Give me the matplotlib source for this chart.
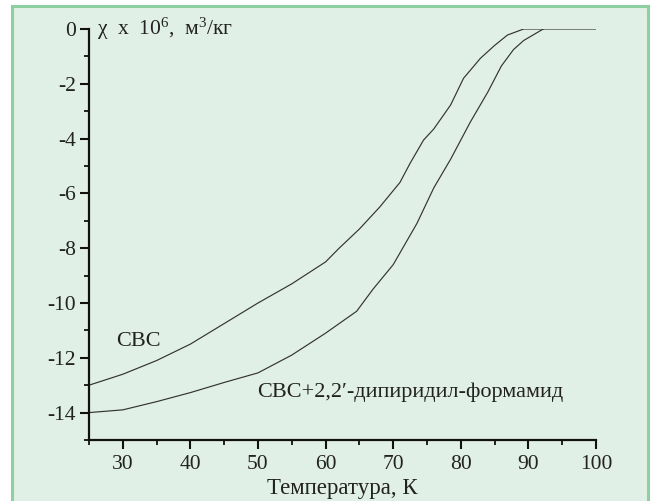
import matplotlib
matplotlib.use("Agg")
import matplotlib.pyplot as plt
from matplotlib.patches import Rectangle
from matplotlib.ticker import MultipleLocator

plt.rcParams['font.family'] = ['Liberation Serif', 'DejaVu Serif']
plt.rcParams['mathtext.fontset'] = 'custom'
plt.rcParams['mathtext.rm'] = 'Liberation Serif'
plt.rcParams['mathtext.it'] = 'Liberation Serif:italic'
plt.rcParams['axes.unicode_minus'] = False

# Curve 1: СВС
t_cbc = [25, 30, 35, 40, 45, 50, 55, 60, 62, 65, 68, 71, 72.5, 74.5, 76, 78.5,
         80.4, 82.9, 85, 86.9, 89.3, 100]
chi_cbc = [-13.0, -12.6, -12.1, -11.5, -10.75, -10.0, -9.3, -8.5, -8.0, -7.3,
           -6.5, -5.6, -4.9, -4.05, -3.65, -2.77, -1.8, -1.07, -0.6, -0.22, 0.0, 0.0]

# Curve 2: СВС+2,2'-дипиридил-формамид
t_mix = [25, 30, 35, 40, 45, 50, 55, 60, 64.6, 67, 70, 73.5, 76, 78.5, 81.4,
         84, 86, 87.8, 89.3, 92.2]
chi_mix = [-14.0, -13.9, -13.6, -13.27, -12.9, -12.55, -11.9, -11.1, -10.3,
           -9.5, -8.6, -7.1, -5.8, -4.75, -3.4, -2.3, -1.35, -0.75, -0.42, 0.0]

x_ticks = [30, 40, 50, 60, 70, 80, 90, 100]
y_ticks = [0, -2, -4, -6, -8, -10, -12, -14]

W, H = 652, 501
fig = plt.figure(figsize=(W / 100, H / 100), dpi=100)
fig.patch.set_facecolor('white')
# green framed panel
fig.patches.append(Rectangle((11.5 / W, -0.05), (647.5 - 11.5) / W, 1.05 - 6.5 / H,
                             transform=fig.transFigure, facecolor='#e1f0e6',
                             edgecolor='#8ecfa2', linewidth=2.2, zorder=-10))

ax = fig.add_axes([89 / W, 1 - 440 / H, (596 - 89) / W, (440 - 29) / H])
ax.set_zorder(5)
ax.set_facecolor('none')
ax.plot(t_cbc, chi_cbc, color='#333333', lw=0.85)
ax.plot(t_mix, chi_mix, color='#333333', lw=0.85)

ax.set_xlim(25, 100)
ax.set_ylim(-15, 0)
for s in ['top', 'right']:
    ax.spines[s].set_visible(False)
for s in ['left', 'bottom']:
    ax.spines[s].set_linewidth(1.6)
    ax.spines[s].set_color('#111111')

ax.set_xticks(x_ticks)
ax.set_xticklabels([str(v) for v in x_ticks])
ax.set_yticks(y_ticks)
ax.set_yticklabels([str(v) for v in y_ticks])
ax.xaxis.set_minor_locator(MultipleLocator(5))
ax.yaxis.set_minor_locator(MultipleLocator(1))
ax.tick_params(which='major', direction='out', length=6.5, width=1.5,
               labelsize=15.5, color='#111111', labelcolor='#222222')
ax.tick_params(which='minor', direction='out', length=3.5, width=1.3, color='#111111')
ax.tick_params(axis='x', which='major', pad=4)
ax.tick_params(axis='y', which='major', pad=3)

ax.set_xlabel('Температура, К', fontsize=16.5, color='#222222', labelpad=3)
ax.text(0.015, 1.0, 'χ  x  10$^{6}$,  м$^{3}$/кг', transform=ax.transAxes,
        fontsize=15.5, color='#222222', ha='left', va='center')

ax.text(29.0, -11.4, 'СВС', fontsize=16, color='#222222', ha='left', va='center')
ax.text(49.9, -13.25, 'СВС+2,2′-дипиридил-формамид', fontsize=16, color='#222222',
        ha='left', va='center')

fig.savefig('out.png', dpi=100)
